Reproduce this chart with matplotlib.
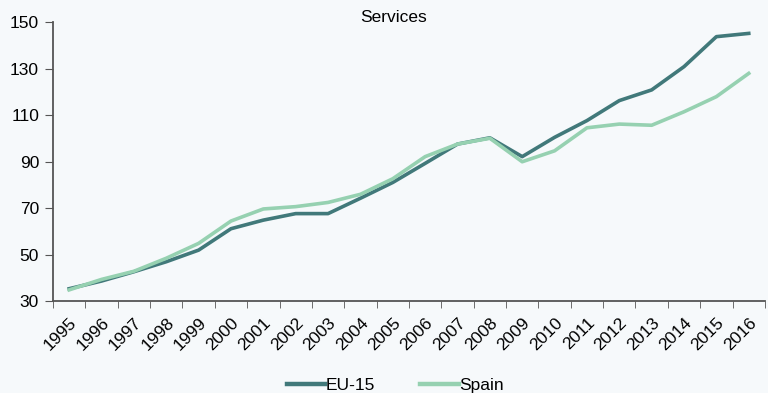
import matplotlib
matplotlib.use('Agg')
from matplotlib import pyplot as plt

plt.rcParams['font.family'] = ['Liberation Sans', 'DejaVu Sans']

years = [str(y) for y in range(1995, 2017)]
eu15 = [35.3, 38.6, 42.6, 46.9, 51.9, 61.1, 64.8, 67.6, 67.6, 74.2, 81.0,
        89.2, 97.5, 100.2, 92.1, 100.4, 107.6, 116.2, 120.8, 130.8, 143.7, 145.1]
spain = [34.8, 39.3, 42.8, 48.4, 54.8, 64.4, 69.6, 70.6, 72.4, 75.9, 82.6,
         92.1, 97.5, 100.0, 89.9, 94.6, 104.5, 106.1, 105.6, 111.4, 117.9, 127.9]

bg = '#f6f9fb'
fig, ax = plt.subplots(figsize=(7.68, 3.93), dpi=100)
fig.patch.set_facecolor(bg)
ax.set_facecolor(bg)
fig.subplots_adjust(left=0.069, right=0.996, top=0.944, bottom=0.234)

x = list(range(len(years)))
ax.plot(x, eu15, color='#41797a', lw=2.6, label='EU-15')
ax.plot(x, spain, color='#96d1b1', lw=2.6, label='Spain')

ax.set_xlim(-0.5, len(years) - 0.5)
ax.set_ylim(30, 150)
ax.set_yticks(range(30, 151, 20))
ax.set_xticks(x)
ax.set_xticklabels(years, rotation=45, ha='right', va='top', rotation_mode='anchor')
ax.set_xticks([i - 0.5 for i in range(len(years) + 1)], minor=True)
ax.tick_params(axis='x', which='major', length=0, labelsize=12.5, pad=10)
ax.tick_params(axis='x', which='minor', length=5, color='#555555', direction='out')
ax.tick_params(axis='y', length=6, color='#555555', labelsize=12.5, pad=4)

for s in ['top', 'right']:
    ax.spines[s].set_visible(False)
for s in ['left', 'bottom']:
    ax.spines[s].set_color('#555555')
    ax.spines[s].set_linewidth(1.3)

fig.text(0.512, 1 - 18 / 393, 'Services', ha='center', va='center', fontsize=12.5)

leg = fig.legend(loc='lower center', ncol=2, frameon=False, fontsize=12.5,
                 bbox_to_anchor=(0.515, -0.04), handlelength=2.2, columnspacing=2.6,
                 handletextpad=0.05)
for h in leg.get_lines():
    h.set_linewidth(3.2)

fig.savefig('out.png', facecolor=bg)
